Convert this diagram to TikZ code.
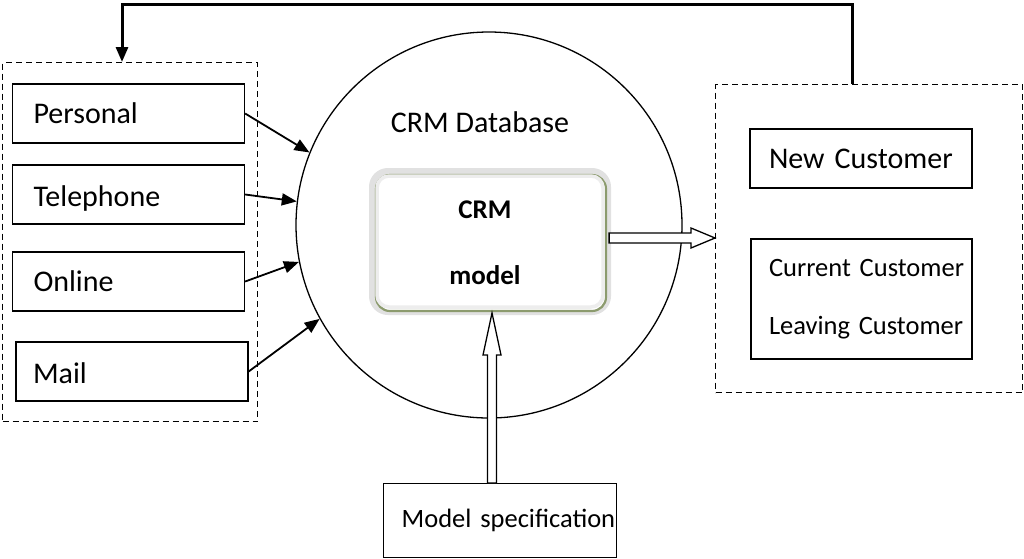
\documentclass[tikz,border=0pt]{standalone}
\usepackage{fontspec}
\setmainfont{Carlito}
\usetikzlibrary{arrows.meta,calc}
\definecolor{modelgreen}{RGB}{140,155,110}
\definecolor{glowgray}{RGB}{225,225,225}
\tikzset{
  box/.style={draw, line width=1.3pt, inner ysep=0pt},
  srcbox/.style={box, minimum width=232pt, minimum height=59pt, text width=190pt, inner xsep=21pt, align=left, text height=19pt, text depth=0pt, font=\fontsize{30}{32}\selectfont},
  dashbox/.style={draw, line width=1.2pt, dash pattern=on 6pt off 4pt},
  feed/.style={-{Triangle[length=15pt,width=12pt]}, line width=1.8pt},
  hollow/.style={draw, line width=1.3pt, fill=white, line join=miter},
  loop/.style={line width=3pt, -{Triangle[length=15pt,width=12pt]}}
}
\begin{document}
\begin{tikzpicture}[x=1pt,y=-1pt]
\useasboundingbox (0,0) rectangle (1024,558);
% left dashed group
\node[dashbox, minimum width=255pt, minimum height=359pt, anchor=north west] (lgrp) at (2,62) {};
\node[srcbox] (p) at (128.5,113.5) {Personal};
\node[srcbox] (t) at (128.5,194.5) {\raisebox{-2pt}{Telephone}};
\node[srcbox] (o) at (128.5,281.5) {Online};
\node[srcbox, text width=198pt, inner xsep=17pt] (m) at (132,371.5) {\raisebox{-2.5pt}{Mail}};
% database circle
\node[draw, circle, line width=1.3pt, minimum size=386pt, inner sep=0pt] (db) at (489,225) {};
\node[font=\fontsize{30}{32}\selectfont] (dbl) at (480,122) {CRM Database};
% model box
\draw[glowgray, line width=8pt, rounded corners=15pt] (373,172) rectangle (607,311);
\node[draw=modelgreen, line width=2.2pt, fill=white, rounded corners=14pt, minimum width=230pt, minimum height=136pt, font=\bfseries\fontsize{27}{29}\selectfont, align=center] (crm) at (491,243) {\hspace*{-12pt}CRM\\[37pt]\hspace*{-12pt}model};
\draw[glowgray!60, line width=3.5pt, rounded corners=12pt] (377,176) rectangle (603,307);
% right dashed group
\node[dashbox, minimum width=307pt, minimum height=308pt, anchor=north west] (rgrp) at (715,84) {};
\node[box, minimum width=222pt, minimum height=59pt, text width=184pt, inner xsep=19pt, align=left, text height=19pt, text depth=0pt, font=\fontsize{30}{32}\selectfont] (nc) at (861,158.5) {\mbox{New Customer}};
\node[box, minimum width=221pt, minimum height=120pt, text width=185pt, inner xsep=18pt, align=left, font=\fontsize{26.5}{28}\selectfont] (cc) at (861.5,299) {\mbox{Current Customer}\\[30pt]\mbox{Leaving Customer}};
% model specification
\node[box, minimum width=233pt, minimum height=74pt, text width=197pt, inner xsep=18pt, align=left, font=\fontsize{26.5}{28}\selectfont, anchor=north west] (ms) at (383,483) {\raisebox{3pt}{\mbox{Model specification}}};
% input arrows
\draw[feed] (p.east) -- (db.158.4);
\draw[feed] (t.east) -- (db.173.5);
\draw[feed] (o.east) -- (db.191.7);
\draw[feed] (m.east) -- (db.209.6);
% hollow right arrow
\coordinate (ra) at (crm.east |- 0,238);
\coordinate (rt) at (rgrp.west |- 0,238);
\draw[hollow] (ra) ++(2,-5) -- ($(rt)+(-24,-5)$) -- ($(rt)+(-24,-10)$) -- (rt) -- ($(rt)+(-24,10)$) -- ($(rt)+(-24,5)$) -- ($(ra)+(2,5)$) -- cycle;
% hollow up arrow
\coordinate (ub) at (492,483);
\coordinate (ut) at (492,313);
\draw[hollow] ($(ub)+(-4.5,0)$) -- ($(ut)+(-4.5,42)$) -- ($(ut)+(-9,42)$) -- (ut) -- ($(ut)+(9,42)$) -- ($(ut)+(4.5,42)$) -- ($(ub)+(4.5,0)$) -- cycle;
% feedback loop
\coordinate (fs) at (852,84);
\coordinate (fe) at (122,62);
\draw[loop] (fs) |- (122,4) -- (fe);
\end{tikzpicture}
\end{document}
